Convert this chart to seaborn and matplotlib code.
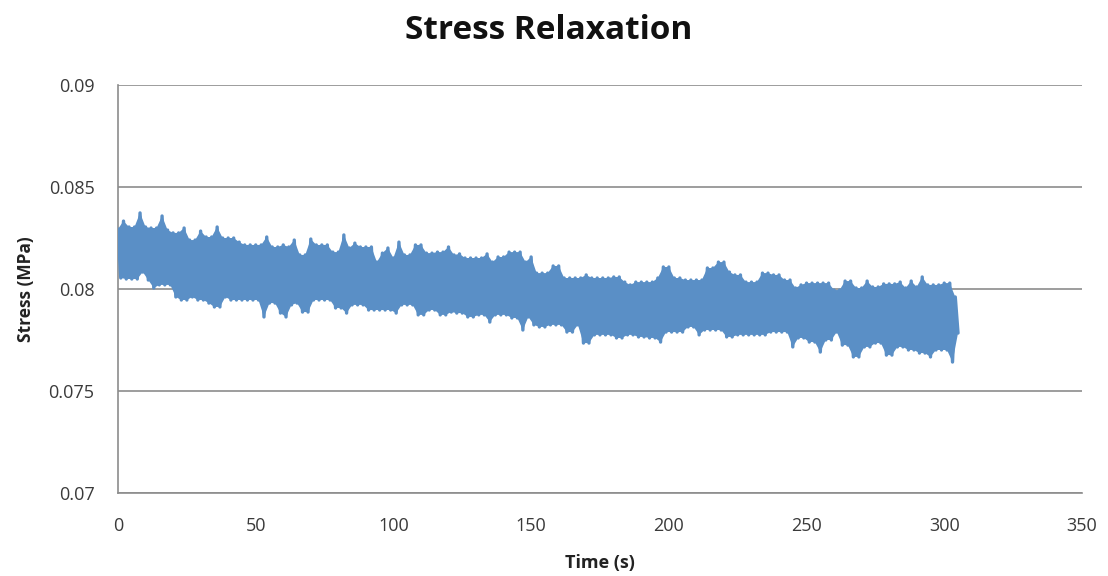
import matplotlib
matplotlib.use("Agg")
import matplotlib.pyplot as plt
import seaborn as sns
import pandas as pd

# Stress readings: local maxima sampled at even seconds, local minima at odd seconds
peak_time = list(range(0, 305, 2))
peak_stress = [
    0.08294, 0.08333, 0.08304, 0.08304, 0.08373, 0.08304, 0.08299, 0.08299, 0.08358, 0.08289,
    0.08275, 0.08275, 0.08299, 0.08240, 0.08240, 0.08284, 0.08255, 0.08255, 0.08304, 0.08250,
    0.08250, 0.08250, 0.08230, 0.08216, 0.08216, 0.08216, 0.08216, 0.08255, 0.08206, 0.08206,
    0.08216, 0.08206, 0.08240, 0.08167, 0.08167, 0.08245, 0.08216, 0.08216, 0.08216, 0.08181,
    0.08181, 0.08265, 0.08201, 0.08225, 0.08206, 0.08206, 0.08206, 0.08132, 0.08176, 0.08201,
    0.08152, 0.08230, 0.08167, 0.08167, 0.08216, 0.08216, 0.08176, 0.08176, 0.08181, 0.08181,
    0.08206, 0.08167, 0.08172, 0.08152, 0.08152, 0.08152, 0.08152, 0.08172, 0.08132, 0.08157,
    0.08157, 0.08181, 0.08181, 0.08181, 0.08132, 0.08157, 0.08078, 0.08078, 0.08078, 0.08113,
    0.08113, 0.08054, 0.08054, 0.08054, 0.08054, 0.08069, 0.08054, 0.08054, 0.08054, 0.08054,
    0.08059, 0.08059, 0.08034, 0.08020, 0.08034, 0.08034, 0.08034, 0.08034, 0.08054, 0.08108,
    0.08108, 0.08054, 0.08054, 0.08044, 0.08044, 0.08044, 0.08044, 0.08103, 0.08103, 0.08132,
    0.08132, 0.08083, 0.08069, 0.08069, 0.08034, 0.08034, 0.08034, 0.08078, 0.08078, 0.08069,
    0.08069, 0.08044, 0.08044, 0.08005, 0.08020, 0.08029, 0.08029, 0.08029, 0.08029, 0.08029,
    0.07995, 0.07995, 0.08039, 0.08039, 0.08005, 0.08005, 0.08039, 0.08010, 0.08010, 0.08025,
    0.08025, 0.08025, 0.08034, 0.08005, 0.08039, 0.08010, 0.08059, 0.08020, 0.08020, 0.08020,
    0.08029, 0.08029, 0.07961,
]

trough_time = list(range(1, 306, 2))
trough_stress = [
    0.08054, 0.08049, 0.08049, 0.08049, 0.08083, 0.08044, 0.08005, 0.08020, 0.08020, 0.08020,
    0.07961, 0.07946, 0.07946, 0.07961, 0.07946, 0.07946, 0.07931, 0.07912, 0.07912, 0.07961,
    0.07946, 0.07946, 0.07946, 0.07946, 0.07946, 0.07946, 0.07863, 0.07931, 0.07931, 0.07882,
    0.07863, 0.07922, 0.07931, 0.07887, 0.07887, 0.07946, 0.07946, 0.07946, 0.07946, 0.07907,
    0.07907, 0.07882, 0.07922, 0.07922, 0.07922, 0.07897, 0.07897, 0.07897, 0.07897, 0.07897,
    0.07882, 0.07922, 0.07922, 0.07922, 0.07873, 0.07873, 0.07897, 0.07897, 0.07873, 0.07873,
    0.07887, 0.07882, 0.07882, 0.07863, 0.07863, 0.07873, 0.07873, 0.07838, 0.07873, 0.07873,
    0.07873, 0.07858, 0.07858, 0.07799, 0.07863, 0.07824, 0.07814, 0.07814, 0.07824, 0.07824,
    0.07824, 0.07789, 0.07789, 0.07824, 0.07735, 0.07735, 0.07775, 0.07775, 0.07775, 0.07775,
    0.07760, 0.07760, 0.07775, 0.07775, 0.07765, 0.07765, 0.07760, 0.07760, 0.07740, 0.07789,
    0.07789, 0.07789, 0.07789, 0.07814, 0.07814, 0.07775, 0.07799, 0.07799, 0.07799, 0.07799,
    0.07765, 0.07765, 0.07775, 0.07775, 0.07775, 0.07775, 0.07775, 0.07775, 0.07789, 0.07789,
    0.07789, 0.07789, 0.07716, 0.07760, 0.07760, 0.07740, 0.07740, 0.07691, 0.07750, 0.07750,
    0.07789, 0.07725, 0.07725, 0.07667, 0.07667, 0.07716, 0.07716, 0.07735, 0.07735, 0.07676,
    0.07676, 0.07716, 0.07716, 0.07701, 0.07701, 0.07686, 0.07686, 0.07667, 0.07701, 0.07701,
    0.07701, 0.07642, 0.07784,
]

x_ticks = [0, 50, 100, 150, 200, 250, 300, 350]
y_ticks = [0.07, 0.075, 0.08, 0.085, 0.09]
y_tick_labels = ["0.07", "0.075", "0.08", "0.085", "0.09"]

LINE_BLUE = "#5A8FC6"

# Interleave maxima and minima into a single time series
df = pd.DataFrame({
    "Time (s)": peak_time + trough_time,
    "Stress (MPa)": peak_stress + trough_stress,
}).sort_values("Time (s)")

sns.set_theme(style="white")
plt.rcParams["font.family"] = ["Open Sans", "DejaVu Sans"]

fig = plt.figure(figsize=(11.08, 5.76), dpi=100)
ax = fig.add_axes([0.1065, 0.1441, 0.870, 0.7083])

# Dense oscillation between the maxima and minima reads as a solid band
ax.fill(peak_time + trough_time[::-1], peak_stress + trough_stress[::-1],
        color=LINE_BLUE, linewidth=0, zorder=2)
sns.lineplot(data=df, x="Time (s)", y="Stress (MPa)", ax=ax, color=LINE_BLUE,
             linewidth=2.4, sort=False, estimator=None, zorder=3,
             solid_joinstyle="round", solid_capstyle="round")

ax.set_xlim(0, 350)
ax.set_ylim(0.07, 0.09)
ax.set_xticks(x_ticks)
ax.set_xticklabels([str(v) for v in x_ticks])
ax.set_yticks(y_ticks)
ax.set_yticklabels(y_tick_labels)
ax.tick_params(axis="both", length=0, labelsize=13, labelcolor="#3a3a3a")
ax.tick_params(axis="x", pad=17)
ax.tick_params(axis="y", pad=17)

ax.yaxis.grid(True, color="#8c8c8c", linewidth=1.2)
ax.set_axisbelow(True)
for side in ("top", "right"):
    ax.spines[side].set_visible(False)
for side in ("left", "bottom"):
    ax.spines[side].set_color("#8c8c8c")
    ax.spines[side].set_linewidth(1.2)

ax.set_xlabel("Time (s)", fontsize=13, fontweight="bold", color="#222222", labelpad=14)
ax.set_ylabel("Stress (MPa)", fontsize=12.5, fontweight="bold", color="#222222", labelpad=10)
fig.suptitle("Stress Relaxation", x=0.495, y=0.975, fontsize=24, fontweight="bold",
             color="#111111")

fig.savefig("out.png", dpi=100)
